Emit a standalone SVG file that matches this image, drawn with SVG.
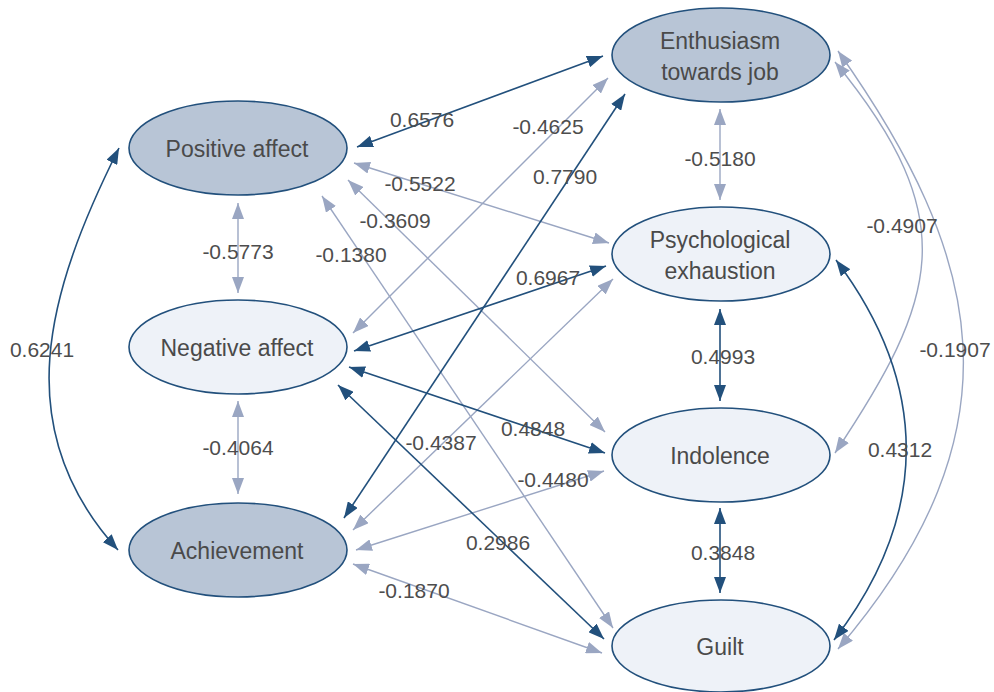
<svg xmlns="http://www.w3.org/2000/svg" width="994" height="692" viewBox="0 0 994 692">
<style>
.node-dark{fill:#b8c5d6;stroke:#22507c;stroke-width:1.6}
.node-light{fill:#eef2f8;stroke:#22507c;stroke-width:1.6}
.nt{font-family:"Liberation Sans",Arial,sans-serif;font-size:23px;fill:#4a4a4a;text-anchor:middle}
.lbl{font-family:"Liberation Sans",Arial,sans-serif;font-size:21px;fill:#4d4d4d;text-anchor:middle}
.dk{stroke:#22507c;stroke-width:1.6;fill:none;marker-start:url(#ad);marker-end:url(#ad)}
.lt{stroke:#9aa6c2;stroke-width:1.4;fill:none;marker-start:url(#al);marker-end:url(#al)}
</style>
<defs>
<marker id="ad" viewBox="0 0 16 12" refX="16" refY="6" markerWidth="16" markerHeight="12" markerUnits="userSpaceOnUse" orient="auto-start-reverse">
<path d="M0,0 L16,6 L0,12 z" fill="#22507c"/>
</marker>
<marker id="al" viewBox="0 0 16 12" refX="16" refY="6" markerWidth="16" markerHeight="12" markerUnits="userSpaceOnUse" orient="auto-start-reverse">
<path d="M0,0 L16,6 L0,12 z" fill="#9aa6c2"/>
</marker>
</defs>
<rect width="994" height="692" fill="#ffffff"/>
<g id="connectors">
<line class="lt" x1="238" y1="203" x2="238" y2="293"/>
<line class="lt" x1="238" y1="401" x2="238" y2="494"/>
<line class="lt" x1="720" y1="109" x2="720" y2="200"/>
<line class="lt" x1="354" y1="163" x2="609" y2="243"/>
<line class="lt" x1="353" y1="333" x2="608" y2="78"/>
<line class="lt" x1="348" y1="180" x2="605" y2="432"/>
<line class="lt" x1="322" y1="196" x2="613" y2="628"/>
<line class="lt" x1="353" y1="530" x2="613" y2="279"/>
<line class="lt" x1="356" y1="550" x2="604" y2="471"/>
<line class="lt" x1="353" y1="564" x2="602" y2="653"/>
<path class="lt" d="M835,62 C965,220 937,300 835,453"/>
<path class="lt" d="M838,51 C983,256 1026,429 838,649"/>
<line class="dk" x1="357" y1="147" x2="603" y2="56"/>
<line class="dk" x1="344" y1="518" x2="625" y2="94"/>
<line class="dk" x1="354" y1="351" x2="606" y2="266"/>
<line class="dk" x1="349" y1="367" x2="605" y2="453"/>
<line class="dk" x1="338" y1="385" x2="604" y2="639"/>
<line class="dk" x1="720" y1="309" x2="720" y2="401"/>
<line class="dk" x1="720" y1="508" x2="720" y2="593"/>
<path class="dk" d="M119,148 C47,292 7,428 118,550"/>
<path class="dk" d="M836,260 C930,385 930,515 834,640"/>
<g id="labels">
<text class="lbl" x="422" y="127">0.6576</text>
<text class="lbl" x="548" y="134">-0.4625</text>
<text class="lbl" x="420" y="191">-0.5522</text>
<text class="lbl" x="565" y="184">0.7790</text>
<text class="lbl" x="395" y="228">-0.3609</text>
<text class="lbl" x="351" y="262">-0.1380</text>
<text class="lbl" x="238" y="259">-0.5773</text>
<text class="lbl" x="548" y="285">0.6967</text>
<text class="lbl" x="42" y="357">0.6241</text>
<text class="lbl" x="441" y="450">-0.4387</text>
<text class="lbl" x="533" y="436">0.4848</text>
<text class="lbl" x="238" y="455">-0.4064</text>
<text class="lbl" x="553" y="487">-0.4480</text>
<text class="lbl" x="498" y="550">0.2986</text>
<text class="lbl" x="414" y="598">-0.1870</text>
<text class="lbl" x="720" y="166">-0.5180</text>
<text class="lbl" x="723" y="364">0.4993</text>
<text class="lbl" x="723" y="560">0.3848</text>
<text class="lbl" x="902" y="233">-0.4907</text>
<text class="lbl" x="955" y="357">-0.1907</text>
<text class="lbl" x="900" y="457">0.4312</text>
</g>
</g>
<g id="positive-affect">
<ellipse class="node-dark" cx="238" cy="148" rx="109" ry="47"/>
<text class="nt" x="237" y="157">Positive affect</text>
</g>
<g id="negative-affect">
<ellipse class="node-light" cx="238" cy="347" rx="109" ry="47"/>
<text class="nt" x="237" y="356">Negative affect</text>
</g>
<g id="achievement">
<ellipse class="node-dark" cx="238" cy="550" rx="109" ry="47"/>
<text class="nt" x="237" y="559">Achievement</text>
</g>
<g id="enthusiasm">
<ellipse class="node-dark" cx="721" cy="55" rx="109" ry="47"/>
<text class="nt" x="720" y="49">Enthusiasm</text>
<text class="nt" x="720" y="80">towards job</text>
</g>
<g id="psychological-exhaustion">
<ellipse class="node-light" cx="721" cy="254" rx="109" ry="47"/>
<text class="nt" x="720" y="248">Psychological</text>
<text class="nt" x="720" y="279">exhaustion</text>
</g>
<g id="indolence">
<ellipse class="node-light" cx="721" cy="455" rx="109" ry="47"/>
<text class="nt" x="720" y="464">Indolence</text>
</g>
<g id="guilt">
<ellipse class="node-light" cx="721" cy="646" rx="109" ry="46"/>
<text class="nt" x="720" y="655">Guilt</text>
</g>
</svg>
